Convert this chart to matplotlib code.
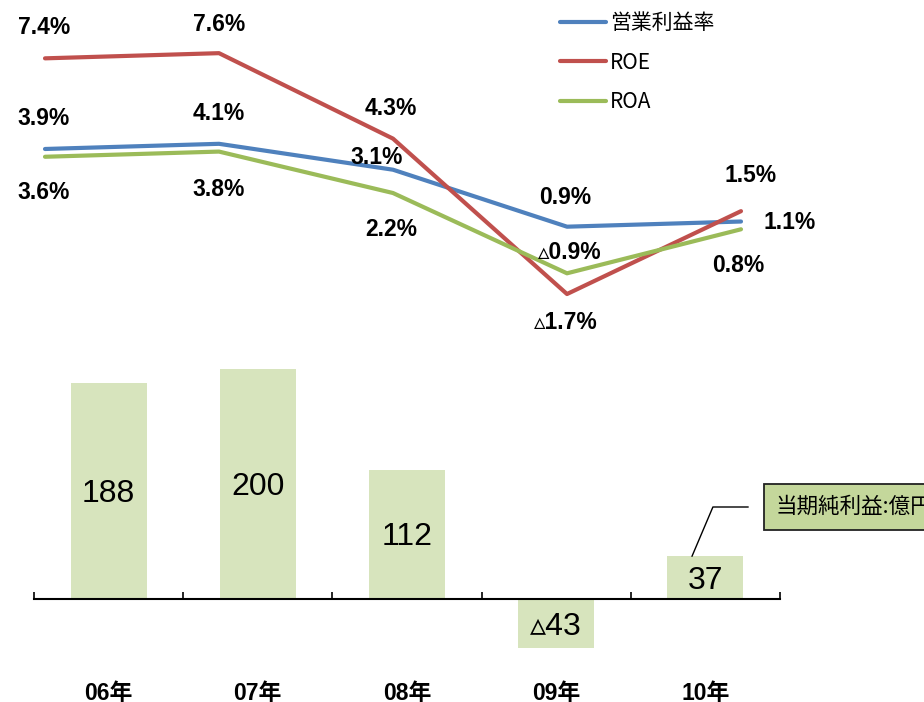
import matplotlib.pyplot as plt

# Jaren en waarden
years = ['06年', '07年', '08年', '09年', '10年']
op_margin = [3.9, 4.1, 3.1, 0.9, 1.1]      # 営業利益率 (%)
roe = [7.4, 7.6, 4.3, -1.7, 1.5]            # ROE (%)
roa = [3.6, 3.8, 2.2, -0.9, 0.8]            # ROA (%)
net_income = [188, 200, 112, -43, 37]       # 当期純利益 (億円)

series_names = ['営業利益率', 'ROE', 'ROA']
series_colors = ['#4f81bd', '#c0504d', '#9bbb59']

# Label-verschuivingen in pixels t.o.v. het punt (alleen opmaak)
label_offsets = [
    [(-1, 30), (0, 30), (-16, 12), (-2, 29), (49, -1)],
    [(-1, 31), (0, 29), (-2, 30), (-1, -28), (10, 36)],
    [(-1, -36), (0, -38), (-2, -36), (3, 21), (-3, -36)],
]

W, H = 924, 702


def px_rect(x0, y0, x1, y1):
    return [x0 / W, 1 - y1 / H, (x1 - x0) / W, (y1 - y0) / H]


def fmt(v, suffix=''):
    s = f'{abs(v):g}' if suffix == '' else f'{abs(v):.1f}'
    return ('▵' if v < 0 else '') + s + suffix


plt.rcParams['font.family'] = ['Noto Sans CJK JP', 'DejaVu Sans']
fig = plt.figure(figsize=(W / 100, H / 100), dpi=100)

# --- Staafdiagram (onder) ---
ax_bar = fig.add_axes(px_rect(34, 350, 780, 700))
bar_w = 0.51
xs = list(range(len(years)))
ax_bar.bar(xs, net_income, width=bar_w, color='#d7e4bd', zorder=1)
ax_bar.set_xlim(-0.5, 4.5)
ax_bar.set_ylim(-(700 - 598) / 1.16, (598 - 350) / 1.146)
for s in ['top', 'left', 'right']:
    ax_bar.spines[s].set_visible(False)
ax_bar.spines['bottom'].set_position(('data', 0))
ax_bar.spines['bottom'].set_linewidth(1.5)
ax_bar.spines['bottom'].set_zorder(3)
ax_bar.set_yticks([])
ax_bar.set_xticks(xs, years)
ax_bar.set_xticks([x - 0.5 for x in xs] + [4.5], minor=True)
ax_bar.tick_params(axis='x', which='major', length=0, pad=60)
ax_bar.tick_params(axis='x', which='minor', direction='in', length=5, width=1.2)
for lbl in ax_bar.get_xticklabels():
    lbl.set_family(['Liberation Sans', 'Noto Sans CJK JP'])
    lbl.set_fontweight('bold')
    lbl.set_fontsize(16.5)

for x, v in zip(xs, net_income):
    ax_bar.annotate(fmt(v), xy=(x, v / 2), xytext=(0, -3), textcoords='offset pixels',
                    ha='center', va='center', fontsize=23,
                    family=['Liberation Sans', 'DejaVu Sans'])

# Kader met toelichting
ax_bar.annotate('当期純利益:億円', xy=(4 - 0.09, net_income[4]),
                xytext=(776, H - 507), textcoords='figure pixels',
                ha='left', va='center', fontsize=15.5,
                bbox=dict(boxstyle='square,pad=0.55', fc='#c4d79b', ec='#222222', lw=1.3),
                arrowprops=dict(arrowstyle='-', connectionstyle='angle,angleA=0,angleB=67',
                                shrinkA=11, shrinkB=0, color='black', lw=1))

# --- Lijndiagram (boven) ---
ax_line = fig.add_axes(px_rect(0, 0, 924, 350))
ax_line.set_xlim(-45 / 174, (924 - 45) / 174)
ax_line.set_ylim(-(350 - 250) / 25.9, 250 / 25.9)
ax_line.axis('off')

for name, vals, color, offs in zip(series_names, [op_margin, roe, roa],
                                   series_colors, label_offsets):
    ax_line.plot(xs, vals, color=color, lw=3, label=name, solid_capstyle='round')
    for x, v, (dx, dy) in zip(xs, vals, offs):
        ax_line.annotate(fmt(v, '%'), xy=(x, v), xytext=(dx, dy), textcoords='offset pixels',
                         ha='center', va='center', fontsize=16.5, fontweight='bold',
                         family=['Liberation Sans', 'DejaVu Sans'])

ax_line.legend(loc='upper left', bbox_to_anchor=(560 / W, 1 - 12 / H),
               bbox_transform=fig.transFigure, frameon=False, fontsize=15,
               handlelength=2.2, handletextpad=0.2, labelspacing=0.85,
               borderaxespad=0, borderpad=0)

fig.savefig('out.png', dpi=100)
